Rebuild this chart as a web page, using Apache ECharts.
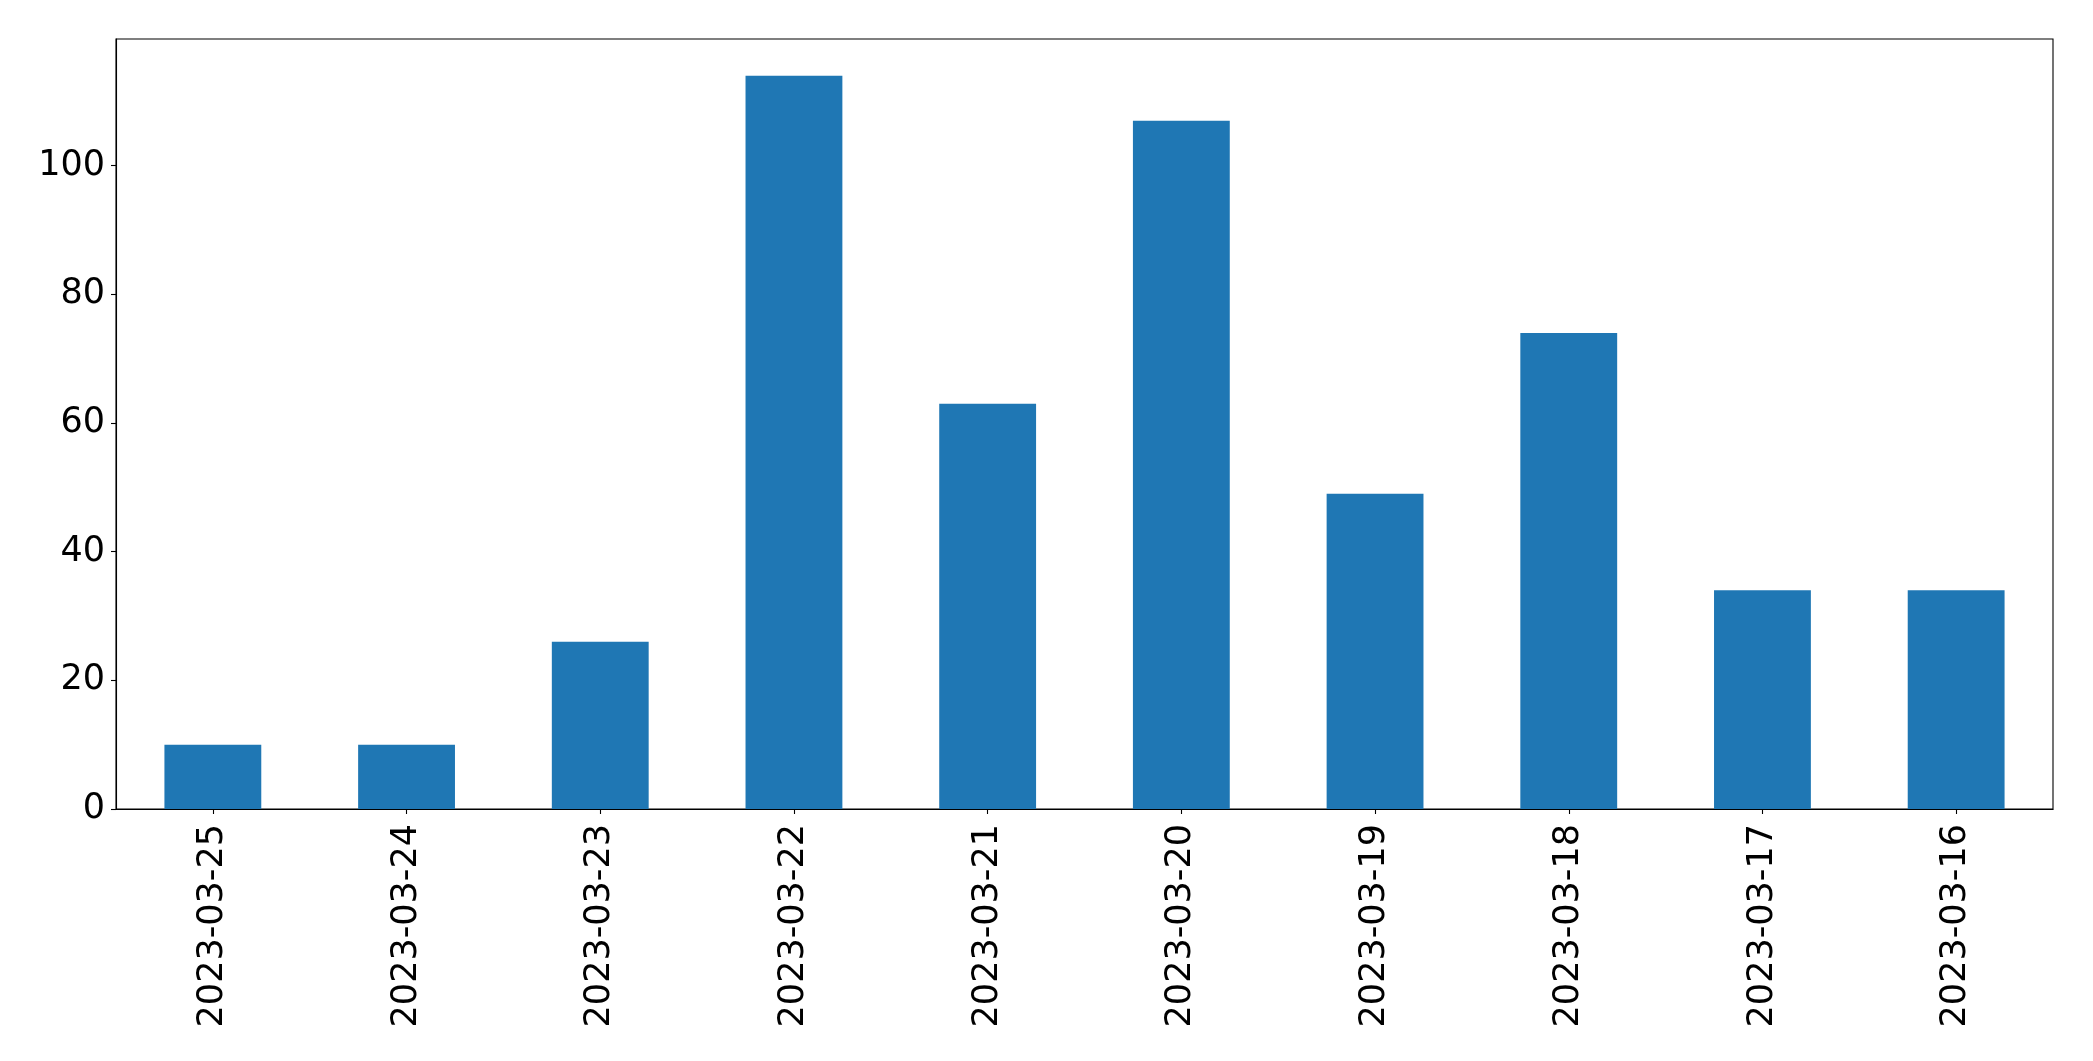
<!DOCTYPE html>
<html>
<head>
<meta charset="utf-8">
<script src="https://cdn.jsdelivr.net/npm/echarts@6/dist/echarts.min.js"></script>
<style>
html,body{margin:0;padding:0;background:#fff;}
#c{width:2093px;height:1061px;}
</style>
</head>
<body>
<div id="c"></div>
<script>
const categories = ["2023-03-25","2023-03-24","2023-03-23","2023-03-22","2023-03-21","2023-03-20","2023-03-19","2023-03-18","2023-03-17","2023-03-16"];
const values = [10, 10, 26, 114, 63, 107, 49, 74, 34, 34];
const yMax = 119.7;

const chart = echarts.init(document.getElementById('c'), null, {renderer: 'canvas'});
const font = 'DejaVu Sans';
chart.setOption({
  animation: false,
  backgroundColor: '#ffffff',
  grid: {left: 116, right: 40, top: 39, bottom: 252, show: true, borderColor: '#000', borderWidth: 1.1, backgroundColor: 'transparent'},
  xAxis: {
    type: 'category',
    data: categories,
    axisLine: {show: true, lineStyle: {color: '#000', width: 1.1}},
    axisTick: {show: true, alignWithLabel: true, length: 5, lineStyle: {color: '#000', width: 1.1}},
    axisLabel: {rotate: 90, margin: 15, color: '#000', fontFamily: font, fontSize: 35, interval: 0}
  },
  yAxis: {
    type: 'value',
    min: 0, max: yMax, interval: 20,
    splitLine: {show: false},
    axisLine: {show: true, lineStyle: {color: '#000', width: 1.1}},
    axisTick: {show: true, length: 5, lineStyle: {color: '#000', width: 1.1}},
    axisLabel: {showMaxLabel: false, margin: 11, padding: [4, 0, 0, 0], color: '#000', fontFamily: font, fontSize: 35}
  },
  series: [{
    type: 'bar',
    data: values,
    barWidth: '50%',
    itemStyle: {color: '#1f77b4'}
  }]
});
</script>
</body>
</html>
